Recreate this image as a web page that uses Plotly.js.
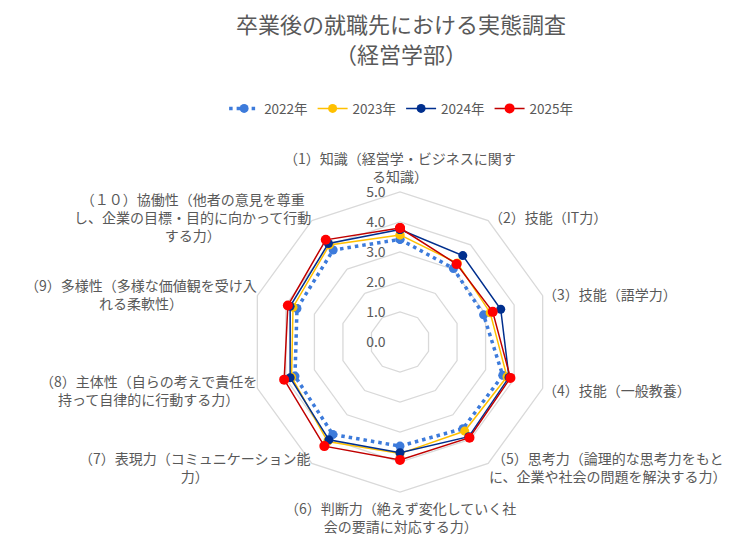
<!DOCTYPE html>
<html>
<head>
<meta charset="utf-8">
<script src="https://cdn.plot.ly/plotly-3.0.1.min.js"></script>
<style>html,body{margin:0;padding:0;background:#fff;}#chart{width:754px;height:543px;}</style>
</head>
<body>
<div id="chart"></div>
<script>
const categories = [
  "（1）知識（経営学・ビジネスに関す<br>る知識）",
  "（2）技能（IT力）",
  "（3）技能（語学力）",
  "（4）技能（一般教養）",
  "（5）思考力（論理的な思考力をもと<br>に、企業や社会の問題を解決する力）",
  "（6）判断力（絶えず変化していく社<br>会の要請に対応する力）",
  "（7）表現力（コミュニケーション能<br>力）",
  "（8）主体性（自らの考えで責任を<br>持って自律的に行動する力）",
  "（9）多様性（多様な価値観を受け入<br>れる柔軟性）",
  "（１０）協働性（他者の意見を尊重<br>し、企業の目標・目的に向かって行動<br>する力）"
];
const seriesNames = ["2022年", "2023年", "2024年", "2025年"];
const v2022 = [3.42, 3.03, 2.93, 3.60, 3.57, 3.47, 3.81, 3.68, 3.61, 3.79];
const v2023 = [3.57, 3.25, 3.16, 3.75, 3.67, 3.72, 4.10, 3.80, 3.75, 4.00];
const v2024 = [3.75, 3.56, 3.53, 3.82, 3.90, 3.69, 4.03, 3.85, 3.85, 4.06];
const v2025 = [3.80, 3.21, 3.25, 3.87, 3.94, 3.93, 4.29, 4.06, 3.93, 4.21];
const radialTicks = [0, 1, 2, 3, 4, 5];
const titleText = "卒業後の就職先における実態調査";
const subtitleText = "（経営学部）";

const styles = [
  {line: {color: "#3D7BDB", width: 3.5, dash: "3.5px,4px"}, marker: {color: "#3D7BDB", size: 9}},
  {line: {color: "#FFC000", width: 1.5}, marker: {color: "#FFC000", size: 9}},
  {line: {color: "#002F8E", width: 1.5}, marker: {color: "#002F8E", size: 9}},
  {line: {color: "#C00000", width: 1.5}, marker: {color: "#FF0000", size: 10}}
];
const allValues = [v2022, v2023, v2024, v2025];
const closeLoop = a => a.concat([a[0]]);
const traces = allValues.map((vals, i) => ({
  type: "scatterpolar",
  mode: "lines+markers",
  name: seriesNames[i],
  r: closeLoop(vals),
  theta: closeLoop(categories),
  line: styles[i].line,
  marker: styles[i].marker,
  hoverinfo: "name+r"
}));

const W = 754, H = 543;
const cx = 400, cy = 342, R = 150;
const titleFont = {size: 22, color: "#595959", family: "'Noto Sans CJK JP', sans-serif"};

// category labels placed around the outer ring (centered text blocks like the original)
const labelFont = {size: 14, color: "#595959", family: "'Noto Sans CJK JP', sans-serif"};
const annotations = categories.map((txt, i) => {
  const ang = (90 - 36 * i) * Math.PI / 180;
  const c = Math.cos(ang), s = Math.sin(ang);
  const vertical = Math.abs(c) < 0.1;
  const rx = R - 2, ry = vertical ? R + 4 : R + 5;
  const px = cx + rx * c, py = cy - ry * s;
  const xanchor = vertical ? "center" : (c > 0 ? "left" : "right");
  const yanchor = s > 0.9 ? "bottom" : (s < -0.9 ? "top" : "middle");
  return {
    text: txt, x: px / W, y: 1 - py / H, xref: "paper", yref: "paper",
    xanchor: xanchor, yanchor: yanchor, align: "center", showarrow: false,
    font: labelFont
  };
});
// second title line
annotations.push({
  text: subtitleText, x: 0.532, y: 1 - 53 / H, xref: "paper", yref: "paper",
  xanchor: "center", yanchor: "middle", showarrow: false, font: titleFont
});

const layout = {
  width: W, height: H,
  margin: {l: 0, r: 0, t: 0, b: 0},
  paper_bgcolor: "#fff",
  font: {family: "'Noto Sans CJK JP', 'Noto Sans', sans-serif", color: "#595959", size: 12},
  title: {
    text: titleText, font: titleFont,
    x: 0.532, xanchor: "center", y: 1 - 25 / H, yanchor: "middle"
  },
  showlegend: true,
  legend: {
    orientation: "h", x: 0.532, xanchor: "center", y: 0.80, yanchor: "middle",
    font: {size: 13.5, color: "#595959"}, itemwidth: 30, traceorder: "normal"
  },
  annotations: annotations,
  polar: {
    domain: {x: [(cx - R) / W, (cx + R) / W], y: [(H - cy - R) / H, (H - cy + R) / H]},
    bgcolor: "rgba(0,0,0,0)",
    gridshape: "linear",
    radialaxis: {
      range: [0, 5], tickvals: radialTicks, tickformat: ".1f",
      angle: 90, tickangle: 90, side: "counterclockwise",
      showline: false, gridcolor: "#D9D9D9", gridwidth: 1.3,
      ticks: "outside", ticklen: 9, tickcolor: "rgba(0,0,0,0)",
      tickfont: {size: 14, color: "#595959"}
    },
    angularaxis: {
      direction: "clockwise", rotation: 90,
      showgrid: false, showline: true, linecolor: "#D9D9D9", linewidth: 1.3,
      ticks: "", showticklabels: false
    }
  }
};
Plotly.newPlot("chart", traces, layout, {displayModeBar: false, staticPlot: true});
</script>
</body>
</html>
